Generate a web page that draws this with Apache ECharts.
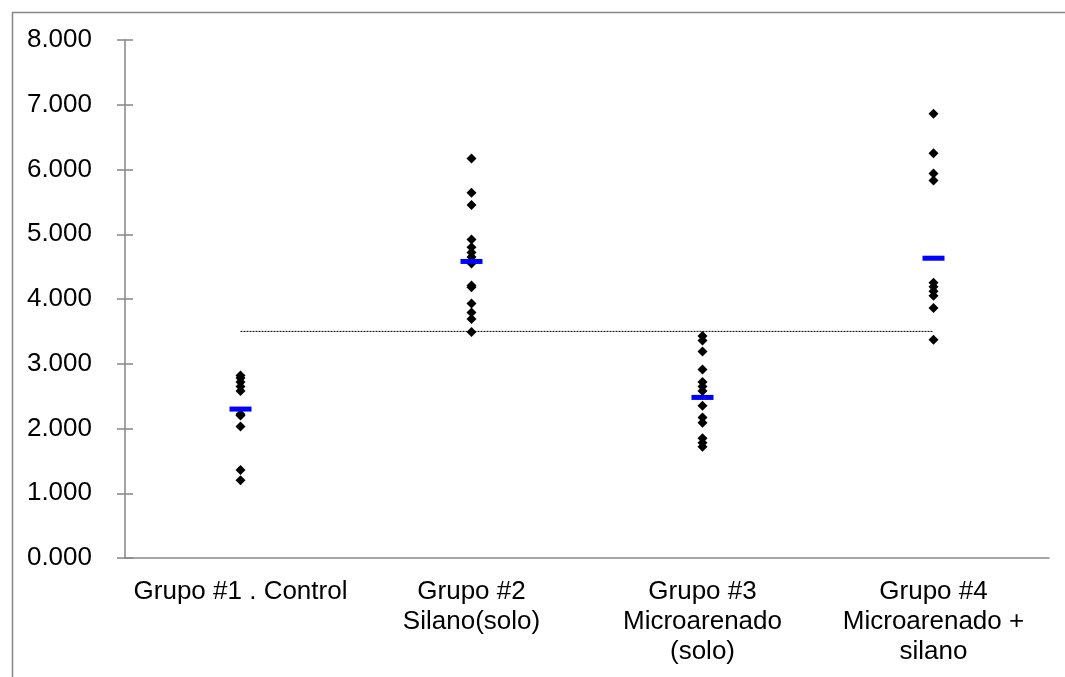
<!DOCTYPE html>
<html>
<head>
<meta charset="utf-8">
<script src="https://cdn.jsdelivr.net/npm/echarts@6/dist/echarts.min.js"></script>
<style>
html,body{margin:0;padding:0;background:#fff;}
#chart{width:1065px;height:677px;}
</style>
</head>
<body>
<div id="chart"></div>
<script>
const categories = ['Grupo #1 . Control', 'Grupo #2\nSilano(solo)', 'Grupo #3\nMicroarenado\n(solo)', 'Grupo #4\nMicroarenado +\nsilano'];
const grupo1 = [2.82, 2.78, 2.72, 2.65, 2.58, 2.22, 2.20, 2.03, 1.36, 1.20];
const grupo2 = [6.17, 5.64, 5.45, 4.92, 4.80, 4.72, 4.65, 4.55, 4.21, 4.18, 3.93, 3.79, 3.69, 3.49];
const grupo3 = [3.43, 3.36, 3.19, 2.91, 2.72, 2.65, 2.58, 2.35, 2.17, 2.09, 1.85, 1.78, 1.72];
const grupo4 = [6.86, 6.25, 5.94, 5.83, 4.25, 4.19, 4.12, 4.05, 3.86, 3.37];
const medias = [2.30, 4.58, 2.48, 4.63];
const referencia = [3.5, 3.5, 3.5, 3.5];
const yTicks = [0, 1, 2, 3, 4, 5, 6, 7, 8];

const grupos = [grupo1, grupo2, grupo3, grupo4];
const puntos = [];
grupos.forEach((g, i) => g.forEach(v => puntos.push([i, v])));
const mediaPts = medias.map((v, i) => [i, v]);

const axisColor = '#868686';
const font = 'Liberation Sans, Arial, sans-serif';
const chart = echarts.init(document.getElementById('chart'));
chart.setOption({
  animation: false,
  backgroundColor: '#fff',
  graphic: [{
    type: 'rect', left: 10, top: 10,
    shape: {width: 1200, height: 800},
    style: {fill: 'none', stroke: axisColor, lineWidth: 1.5},
    silent: true
  }],
  grid: {left: 125, right: 16, top: 40, bottom: 119},
  xAxis: {
    type: 'category',
    data: categories,
    boundaryGap: true,
    axisLine: {lineStyle: {color: axisColor, width: 1.5}},
    axisTick: {show: false},
    axisLabel: {color: '#000', fontFamily: font, fontSize: 26, lineHeight: 30, margin: 19, interval: 0, align: 'center'},
    splitLine: {show: false}
  },
  yAxis: [{
    type: 'value',
    min: yTicks[0], max: yTicks[yTicks.length - 1], interval: 1,
    axisLine: {show: true, lineStyle: {color: axisColor, width: 1.5}},
    axisTick: {show: true, length: 8, lineStyle: {color: axisColor, width: 1.5}},
    axisLabel: {color: '#000', fontFamily: font, fontSize: 26, margin: 33, formatter: v => v.toFixed(3)},
    splitLine: {show: false}
  }, {
    type: 'value', position: 'left',
    min: yTicks[0], max: yTicks[yTicks.length - 1], interval: 1,
    axisLine: {show: false},
    axisTick: {show: true, inside: true, length: 8, lineStyle: {color: axisColor, width: 1.5}},
    axisLabel: {show: false},
    splitLine: {show: false}
  }],
  series: [{
    type: 'line',
    data: referencia,
    symbol: 'none',
    lineStyle: {color: '#000', width: 1, type: [2, 1]},
    z: 1
  }, {
    type: 'scatter',
    data: puntos,
    symbol: 'diamond',
    symbolSize: 10,
    itemStyle: {color: '#000', opacity: 1},
    z: 2
  }, {
    type: 'scatter',
    data: mediaPts,
    symbol: 'rect',
    symbolSize: [22, 5],
    itemStyle: {color: '#0000FF', opacity: 1},
    z: 3
  }]
});
</script>
</body>
</html>
